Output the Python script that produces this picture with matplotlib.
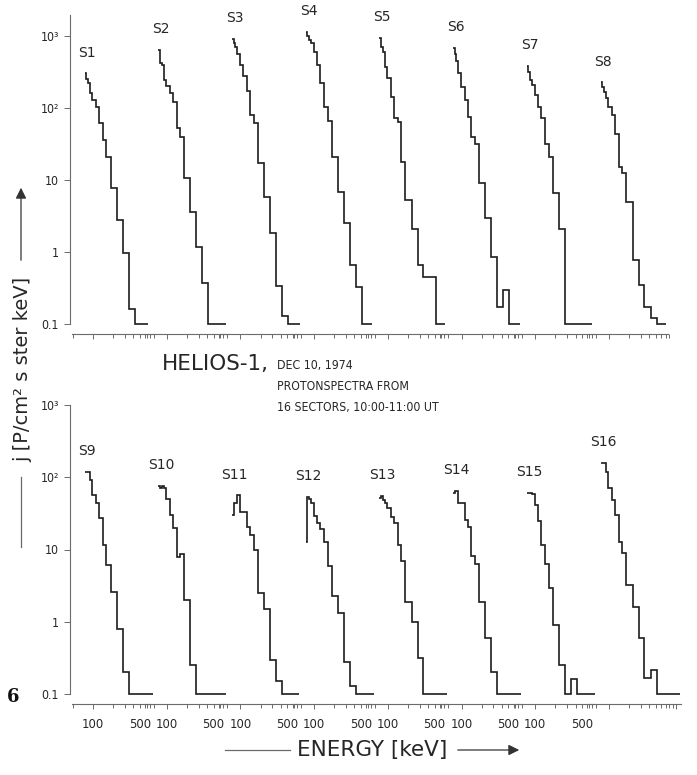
import numpy as np
import matplotlib.pyplot as plt
from matplotlib import font_manager
from matplotlib.ticker import FixedLocator, FuncFormatter, NullLocator, NullFormatter

# proton channel edges (keV), common to all sectors
edges = [75, 79, 84, 90, 98, 111, 124, 141, 159, 183, 226, 278, 339, 419, 518]
floor = 0.1
# energy (keV) where the 0.1 floor line of each sector ends
e_stop = [670, 775, 785, 740, 725, 750, 695, 700,
          795, 780, 760, 785, 760, 780, 780, 1140]

# j per channel [P/cm2 s ster keV], sectors S1..S16
s1 = [303, 250, 220, 160, 129, 102, 61, 36, 20.6, 7.7, 2.8, 0.96, 0.16, 0.1]
s2 = [640, 420, 395, 245, 200, 160, 122, 52, 40, 10.5, 3.6, 1.19, 0.37, 0.1]
s3 = [900, 800, 700, 560, 400, 280, 175, 80, 61, 17, 5.8, 1.85, 0.34, 0.13]
s4 = [1150, 1000, 880, 791, 606, 400, 220, 104, 65, 21, 6.9, 2.5, 0.66, 0.33]
s5 = [940, 711, 600, 375, 258, 140, 72, 63, 18, 5.3, 2.1, 0.66, 0.45, 0.45]
s6 = [675, 560, 450, 310, 198, 130, 75, 40, 32, 9, 3.0, 0.86, 0.17, 0.30]
s7 = [380, 320, 245, 210, 150, 104, 72, 32, 21, 6.5, 2.1, 0.1, 0.1, 0.1]
s8 = [227, 198, 169, 136, 104, 80, 44, 15.3, 12.4, 5.0, 0.77, 0.35, 0.17, 0.12]
s9 = [119, 119, 119, 92, 57, 44, 27, 11.5, 6.1, 2.6, 0.79, 0.20, 0.1, 0.1]
s10 = [75, 71, 75, 72, 50, 30, 20, 8.0, 8.7, 2.0, 0.25, 0.1, 0.1, 0.1]
s11 = [30, 44, 44, 56, 33, 33, 20.7, 15.9, 9.8, 2.5, 1.49, 0.30, 0.15, 0.1]
s12 = [12.8, 54, 50, 44, 29, 23.5, 19, 12.8, 5.9, 2.3, 1.34, 0.28, 0.13, 0.1]
s13 = [51, 55, 49, 44, 37, 28, 23.5, 11.5, 7.0, 1.9, 1.0, 0.31, 0.1, 0.1]
s14 = [60, 65, 65, 44, 44, 25.6, 20.7, 8.1, 6.4, 1.9, 0.59, 0.20, 0.1, 0.1]
s15 = [61, 61, 61, 58, 41, 25, 11.5, 6.3, 2.9, 0.90, 0.25, 0.1, 0.16, 0.1]
s16 = [156, 156, 156, 119, 72, 48, 30, 12.8, 8.9, 3.2, 1.6, 0.59, 0.165, 0.215]

spectra = [s1, s2, s3, s4, s5, s6, s7, s8,
           s9, s10, s11, s12, s13, s14, s15, s16]
names = ['S%d' % (k + 1) for k in range(16)]

ytick_vals = [0.1, 1, 10, 100, 1000]
ytick_text = ['0.1', '1', '10', '10²', '10³']
x_major = [100, 1000]
x_minor = [50, 200, 300, 400, 500, 600, 700, 800, 900]


def have_font(name):
    try:
        font_manager.findfont(name, fallback_to_default=False)
        return True
    except ValueError:
        return False


if have_font('Liberation Sans Narrow'):
    narrow = dict(family='Liberation Sans Narrow')
    nscale = 1.0
else:
    narrow = dict(family='DejaVu Sans', stretch='condensed')
    nscale = 0.88

ink = '#1c1c1c'
axc = '#6b6b6b'
txt = '#262626'

W, H = 697, 775
fig = plt.figure(figsize=(W / 100, H / 100), dpi=100)

# (pixel row of 0.1, pixels per decade, upper y limit)
rows = [(324.0, 72.0, 10 ** 3.29), (694.0, 72.25, 1000.0)]
ylo = 0.095
px_dec_x = 67.0
x_lo = 46.0

for r, (y01, dec, ytop) in enumerate(rows):
    ybot = y01 + dec * np.log10(floor / ylo)
    ytp = y01 - dec * np.log10(ytop / floor)
    for i in range(8):
        k = r * 8 + i
        last = (r == 1 and i == 7)
        x_hi = 1250.0 if last else 800.0
        x100 = 93 + 73.7 * i
        left = x100 - px_dec_x * np.log10(100 / x_lo)
        width = px_dec_x * np.log10(x_hi / x_lo)
        ax = fig.add_axes([left / W, 1 - ybot / H, width / W, (ybot - ytp) / H])
        ax.patch.set_visible(False)
        ax.set_xscale('log')
        ax.set_yscale('log')
        ax.set_xlim(x_lo, x_hi)
        ax.set_ylim(ylo, ytop)

        vals = spectra[k] + [floor]
        bins = edges + [e_stop[k]]
        ax.stairs(vals, bins, baseline=None, color=ink, lw=1.2, clip_on=False)
        ax.annotate(names[k], xy=(edges[0], max(spectra[k])), xytext=(2, 15),
                    textcoords='offset points', ha='center', va='center',
                    fontsize=10, color=txt)

        for s in ['top', 'right']:
            ax.spines[s].set_visible(False)
        ax.spines['bottom'].set_position(('outward', 6))
        ax.spines['bottom'].set_bounds(48, 1200 if last else 760)
        ax.spines['bottom'].set_color(axc)
        ax.spines['bottom'].set_linewidth(0.8)

        ax.xaxis.set_major_locator(FixedLocator(x_major))
        ax.xaxis.set_minor_locator(FixedLocator(x_minor))
        if r == 1 and not last:
            ax.xaxis.set_major_formatter(FuncFormatter(lambda v, p: '100' if v == 100 else ''))
            ax.xaxis.set_minor_formatter(FuncFormatter(lambda v, p: '500' if v == 500 else ''))
        else:
            ax.xaxis.set_major_formatter(NullFormatter())
            ax.xaxis.set_minor_formatter(NullFormatter())
        ax.tick_params(axis='x', which='major', direction='out', length=3.8,
                       width=0.7, color=axc, pad=6, labelsize=10.5 * nscale,
                       labelcolor=txt)
        ax.tick_params(axis='x', which='minor', direction='out', length=2.6,
                       width=0.7, color=axc, pad=7.2, labelsize=10.5 * nscale,
                       labelcolor=txt)
        for lab in ax.get_xticklabels(which='both'):
            lab.set(**narrow)

        if i == 0:
            ax.spines['left'].set_bounds(floor, ytop)
            ax.spines['left'].set_color(axc)
            ax.spines['left'].set_linewidth(0.8)
            ax.set_yticks(ytick_vals, labels=ytick_text)
            ax.yaxis.set_minor_locator(NullLocator())
            ax.tick_params(axis='y', which='major', direction='out', length=4.3,
                           width=0.7, color=axc, pad=4, labelsize=10 * nscale,
                           labelcolor=txt)
            for lab in ax.get_yticklabels():
                lab.set(**narrow)
        else:
            ax.spines['left'].set_visible(False)
            ax.yaxis.set_major_locator(NullLocator())
            ax.yaxis.set_minor_locator(NullLocator())

# overlay in pixel units for the captions and axis titles
ov = fig.add_axes([0, 0, 1, 1])
ov.set_xlim(0, W)
ov.set_ylim(H, 0)
ov.axis('off')
ov.patch.set_visible(False)

ov.text(162, 364, 'HELIOS-1,', fontsize=15.5, color=txt, ha='left', va='center')
ov.text(277, 366, 'DEC 10, 1974', fontsize=10 * nscale, color=txt, ha='left', va='center', **narrow)
ov.text(277, 386, 'PROTONSPECTRA FROM', fontsize=10 * nscale, color=txt, ha='left', va='center', **narrow)
ov.text(277, 407, '16 SECTORS, 10:00-11:00 UT', fontsize=10 * nscale, color=txt,
        ha='left', va='center', **narrow)

# y title with lead line and arrow
ov.text(23, 369, 'j [P/cm² s ster keV]', rotation=90, fontsize=14, color=txt,
        ha='center', va='center')
ov.plot([21, 21], [547, 477], color=axc, lw=0.9)
ov.annotate('', xy=(21, 185), xytext=(21, 263),
            arrowprops=dict(arrowstyle='-|>', color='#333333', lw=0.9, mutation_scale=16))

# x title with lead line and arrow
ov.text(372, 750, 'ENERGY [keV]', fontsize=15.5, color=txt, ha='center', va='center')
ov.plot([225, 290], [750, 750], color=axc, lw=0.9)
ov.annotate('', xy=(522, 750), xytext=(455, 750),
            arrowprops=dict(arrowstyle='-|>', color='#333333', lw=0.9, mutation_scale=16))

ov.text(13, 697, '6', fontsize=13, fontweight='bold', family='DejaVu Serif',
        color='#111111', ha='center', va='center')

fig.savefig('out.png', dpi=100)
